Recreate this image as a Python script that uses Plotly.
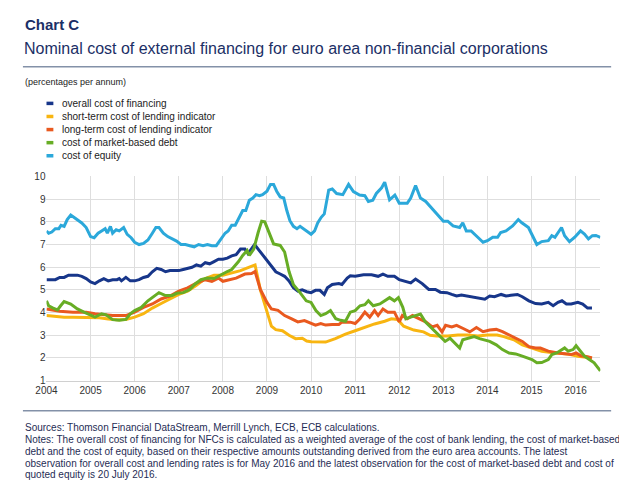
import plotly.graph_objects as go

# page body adds an 8 px margin around the figure; keep the figure inside the window
OFF = 8
W, H = 627 - 2 * OFF, 494 - 2 * OFF

# ---------------- data (decimal years, percentages per annum) ----------------
overall_x = [2004.0, 2004.1, 2004.2, 2004.3, 2004.4, 2004.5, 2004.6, 2004.7, 2004.8, 2004.9,
             2005.0, 2005.1, 2005.2, 2005.3, 2005.4, 2005.5, 2005.6, 2005.65, 2005.7, 2005.8, 2005.9,
             2006.0, 2006.1, 2006.2, 2006.3, 2006.4, 2006.5, 2006.6, 2006.7, 2006.8, 2006.9,
             2007.0, 2007.1, 2007.2, 2007.3, 2007.4, 2007.5, 2007.6, 2007.7, 2007.8, 2007.9,
             2008.0, 2008.1, 2008.2, 2008.3, 2008.4, 2008.5, 2008.57, 2008.65, 2008.72, 2008.8, 2008.9,
             2009.0, 2009.1, 2009.2, 2009.3, 2009.4, 2009.5, 2009.6, 2009.7, 2009.8, 2009.9,
             2010.0, 2010.1, 2010.2, 2010.3, 2010.37, 2010.48, 2010.63, 2010.7, 2010.82, 2010.89,
             2011.0, 2011.19, 2011.37, 2011.52, 2011.63, 2011.74, 2011.89,
             2012.0, 2012.11, 2012.26, 2012.37, 2012.52, 2012.67, 2012.82, 2012.93,
             2013.08, 2013.19, 2013.3, 2013.41, 2013.52, 2013.67, 2013.86, 2013.94,
             2014.05, 2014.16, 2014.31, 2014.42, 2014.53, 2014.68, 2014.79, 2014.94,
             2015.09, 2015.23, 2015.38, 2015.49, 2015.6, 2015.69, 2015.79, 2015.9,
             2016.05, 2016.16, 2016.27, 2016.37]
overall_y = [5.45, 5.45, 5.45, 5.55, 5.55, 5.65, 5.65, 5.65, 5.6, 5.5,
             5.35, 5.28, 5.4, 5.5, 5.4, 5.45, 5.45, 5.5, 5.4, 5.55, 5.4,
             5.4, 5.45, 5.55, 5.6, 5.8, 5.95, 5.9, 5.8, 5.85, 5.85,
             5.85, 5.9, 5.95, 6.0, 6.1, 6.05, 6.2, 6.15, 6.25, 6.35,
             6.35, 6.4, 6.5, 6.55, 6.8, 6.8, 6.6, 6.8, 7.0, 6.8, 6.55,
             6.3, 6.0, 5.8, 5.7, 5.6, 5.4, 5.1, 4.95, 5.0, 4.92,
             4.88, 4.98, 4.98, 4.8, 5.09, 5.24, 5.28, 5.24, 5.52, 5.62,
             5.6, 5.67, 5.67, 5.6, 5.7, 5.6, 5.6,
             5.45, 5.38, 5.31, 5.48, 5.28, 5.02, 5.02, 4.9,
             4.88, 4.8, 4.73, 4.77, 4.73, 4.7, 4.62, 4.59,
             4.73, 4.7, 4.8, 4.73, 4.76, 4.8, 4.7, 4.52,
             4.4, 4.38, 4.45, 4.3, 4.45, 4.52, 4.38, 4.38,
             4.45, 4.38, 4.2, 4.2]

short_x = [2004.0, 2004.2, 2004.4, 2004.6, 2004.8, 2005.0, 2005.2, 2005.4, 2005.6, 2005.8,
           2006.0, 2006.2, 2006.4, 2006.6, 2006.8, 2007.0, 2007.2, 2007.4, 2007.6, 2007.8,
           2008.0, 2008.2, 2008.4, 2008.6, 2008.73, 2008.85, 2009.0, 2009.1, 2009.2, 2009.35,
           2009.5, 2009.65, 2009.8, 2009.9, 2010.0, 2010.2, 2010.33, 2010.55, 2010.78, 2011.0,
           2011.22, 2011.44, 2011.67, 2011.82, 2011.96, 2012.1, 2012.33, 2012.55, 2012.7, 2012.85,
           2013.1, 2013.33, 2013.55, 2013.78, 2014.0, 2014.22, 2014.37, 2014.6, 2014.79, 2015.01,
           2015.23, 2015.53, 2015.83, 2016.05, 2016.37]
short_y = [3.87, 3.82, 3.8, 3.8, 3.8, 3.78, 3.77, 3.72, 3.68, 3.7,
           3.8, 3.95, 4.2, 4.4, 4.6, 4.8, 4.95, 5.2, 5.5, 5.65,
           5.65, 5.75, 5.85, 6.0, 6.1, 5.0, 4.1, 3.4, 3.25, 3.2,
           3.0, 2.85, 2.87, 2.75, 2.72, 2.7, 2.7, 2.85, 3.05, 3.2,
           3.35, 3.5, 3.62, 3.73, 3.7, 3.4, 3.23, 3.15, 3.0, 2.97,
           2.97, 3.01, 3.01, 2.97, 3.01, 3.01, 2.94, 2.8, 2.58, 2.44,
           2.3, 2.22, 2.17, 2.08, 2.0]

long_x = [2004.0, 2004.3, 2004.6, 2004.9, 2005.1, 2005.3, 2005.5, 2005.8,
          2006.0, 2006.2, 2006.4, 2006.6, 2006.8, 2007.0, 2007.2, 2007.4, 2007.6, 2007.75, 2007.9,
          2008.0, 2008.15, 2008.3, 2008.5, 2008.65, 2008.73, 2008.85, 2009.0, 2009.1, 2009.25,
          2009.4, 2009.55, 2009.7, 2009.85, 2010.0, 2010.1, 2010.22, 2010.33, 2010.48, 2010.63,
          2010.7, 2010.89, 2011.0, 2011.11, 2011.22, 2011.33, 2011.44, 2011.52, 2011.63, 2011.74,
          2011.89, 2012.0, 2012.07, 2012.18, 2012.3, 2012.45, 2012.6, 2012.75, 2012.86, 2012.97,
          2013.05, 2013.19, 2013.3, 2013.45, 2013.6, 2013.75, 2013.9, 2014.05, 2014.2, 2014.34,
          2014.57, 2014.79, 2014.94, 2015.09, 2015.2, 2015.38, 2015.6, 2015.75, 2015.9, 2016.01,
          2016.12, 2016.27, 2016.37]
long_y = [4.16, 4.06, 4.02, 4.02, 3.95, 3.92, 3.87, 3.87,
          4.02, 4.23, 4.38, 4.6, 4.73, 4.95, 5.09, 5.3, 5.45, 5.38, 5.52,
          5.38, 5.45, 5.52, 5.7, 5.72, 5.81, 5.02, 4.45, 4.16, 4.1,
          3.87, 3.73, 3.59, 3.65, 3.55, 3.45, 3.52, 3.45, 3.48, 3.48,
          3.58, 3.58, 3.52, 3.73, 4.02, 3.8, 4.09, 3.87, 4.16, 4.02,
          4.02, 3.59, 3.87, 3.73, 3.87, 3.73, 3.59, 3.37, 3.44, 3.15,
          3.44, 3.37, 3.44, 3.3, 3.15, 3.34, 3.16, 3.23, 3.26, 3.16,
          2.94, 2.73, 2.5, 2.44, 2.44, 2.3, 2.22, 2.2, 2.15, 2.22,
          2.1, 2.05, 2.0]

market_x = [2004.0, 2004.05, 2004.15, 2004.25, 2004.32, 2004.4, 2004.55, 2004.7, 2004.85,
            2005.0, 2005.1, 2005.25, 2005.35, 2005.5, 2005.65, 2005.8, 2005.9,
            2006.0, 2006.15, 2006.3, 2006.45, 2006.55, 2006.7, 2006.85, 2006.95,
            2007.1, 2007.25, 2007.35, 2007.5, 2007.65, 2007.8, 2007.95,
            2008.1, 2008.2, 2008.35, 2008.45, 2008.55, 2008.6, 2008.7, 2008.8, 2008.88, 2008.95,
            2009.05, 2009.15, 2009.3, 2009.4, 2009.5, 2009.6, 2009.75, 2009.89,
            2010.0, 2010.11, 2010.22, 2010.33, 2010.44, 2010.56, 2010.67, 2010.78, 2010.89,
            2011.0, 2011.11, 2011.22, 2011.3, 2011.41, 2011.56, 2011.67, 2011.78, 2011.89, 2011.98,
            2012.08, 2012.15, 2012.26, 2012.37, 2012.48, 2012.59, 2012.71, 2012.82, 2012.93,
            2013.04, 2013.15, 2013.26, 2013.37, 2013.44, 2013.56, 2013.7, 2013.82, 2013.93,
            2014.05, 2014.2, 2014.34, 2014.49, 2014.64, 2014.79,
            2015.01, 2015.12, 2015.23, 2015.38, 2015.46, 2015.57, 2015.68, 2015.75, 2015.83, 2015.94,
            2016.01, 2016.12, 2016.2, 2016.31, 2016.42, 2016.56]
market_y = [4.52, 4.3, 4.2, 4.12, 4.3, 4.49, 4.38, 4.16, 4.02,
            3.87, 3.8, 3.95, 3.9, 3.69, 3.66, 3.7, 3.95,
            4.09, 4.23, 4.52, 4.73, 4.88, 4.75, 4.75, 4.85,
            4.88, 5.02, 5.23, 5.45, 5.52, 5.5, 5.67,
            5.81, 5.9, 6.24, 6.52, 6.74, 6.52, 6.8, 7.53, 8.03, 8.0,
            7.53, 7.03, 6.96, 6.67, 5.81, 5.23, 4.88, 4.52,
            4.45, 4.09, 3.87, 3.95, 4.09, 3.73, 3.66, 3.62, 4.02,
            4.09, 4.3, 4.35, 4.52, 4.3, 4.38, 4.52, 4.66, 4.52, 4.66,
            4.23, 3.73, 3.8, 3.87, 3.94, 3.59, 3.37, 3.16, 2.94,
            2.73, 2.87, 2.65, 2.44, 2.8, 2.87, 2.94, 2.85, 2.8,
            2.73, 2.58, 2.37, 2.22, 2.18, 2.08,
            1.93, 1.79, 1.8, 1.93, 2.15, 2.22, 2.37, 2.44, 2.3, 2.37,
            2.54, 2.3, 2.08, 1.93, 1.79, 1.43]

equity_x = [2004.0, 2004.05, 2004.12, 2004.2, 2004.28, 2004.33, 2004.4, 2004.47, 2004.55, 2004.62,
            2004.7, 2004.8, 2004.9, 2005.0, 2005.08, 2005.17, 2005.25, 2005.33, 2005.38, 2005.45,
            2005.5, 2005.58, 2005.65, 2005.75, 2005.83, 2005.92, 2006.0, 2006.1, 2006.2, 2006.3,
            2006.4, 2006.48, 2006.55, 2006.65, 2006.75, 2006.85, 2006.95, 2007.05, 2007.15, 2007.25,
            2007.35, 2007.45, 2007.55, 2007.65, 2007.75, 2007.85, 2007.95, 2008.05, 2008.12, 2008.2,
            2008.28, 2008.35, 2008.45, 2008.52, 2008.6, 2008.68, 2008.75, 2008.83, 2008.9, 2009.0,
            2009.08, 2009.15, 2009.22, 2009.3, 2009.38, 2009.45, 2009.52, 2009.6, 2009.68, 2009.75,
            2009.83, 2009.92, 2010.0, 2010.08, 2010.15, 2010.23, 2010.3, 2010.4, 2010.48, 2010.58,
            2010.72, 2010.85, 2010.96, 2011.1, 2011.22, 2011.3, 2011.4, 2011.48, 2011.6, 2011.67,
            2011.78, 2011.9, 2012.0, 2012.18, 2012.26, 2012.37, 2012.48, 2012.6, 2012.7, 2012.85,
            2013.0, 2013.1, 2013.22, 2013.37, 2013.44, 2013.52, 2013.63, 2013.78, 2013.9, 2014.0,
            2014.12, 2014.23, 2014.3, 2014.42, 2014.57, 2014.7, 2014.78, 2014.93, 2015.01, 2015.12,
            2015.23, 2015.38, 2015.46, 2015.53, 2015.68, 2015.75, 2015.86, 2015.98, 2016.11, 2016.2,
            2016.29, 2016.38, 2016.46, 2016.56]
equity_y = [7.6, 7.5, 7.55, 7.7, 7.7, 7.85, 7.8, 8.1, 8.3, 8.2,
            8.1, 7.95, 7.75, 7.35, 7.3, 7.5, 7.6, 7.7, 7.5, 7.8,
            7.5, 7.65, 7.6, 7.75, 7.45, 7.3, 7.1, 7.0, 7.05, 7.2,
            7.5, 7.75, 7.75, 7.5, 7.35, 7.25, 7.15, 7.0, 7.0, 6.95,
            6.9, 7.0, 6.95, 7.0, 6.95, 6.95, 7.2, 7.5, 7.6, 7.85,
            7.85, 8.1, 8.5, 8.5, 8.95, 9.05, 9.2, 9.15, 9.2, 9.35,
            9.65, 9.65, 9.35, 9.1, 9.05, 8.5, 8.05, 7.8, 7.7, 7.8,
            7.7, 7.55, 7.45, 7.6, 7.95, 8.2, 8.35, 9.4, 9.45, 9.25,
            9.2, 9.65, 9.33, 9.18, 9.15, 8.9, 8.95, 9.25, 9.5, 9.75,
            8.97, 9.18, 8.82, 8.82, 9.05, 9.6, 9.05, 8.9, 8.68, 8.4,
            8.03, 8.03, 7.82, 7.75, 7.96, 7.6, 7.6, 7.32, 7.1, 7.17,
            7.32, 7.32, 7.53, 7.6, 7.82, 8.1, 7.96, 7.75, 7.46, 7.0,
            7.13, 7.17, 7.39, 7.32, 7.75, 7.39, 7.13, 7.32, 7.6, 7.46,
            7.25, 7.39, 7.4, 7.32]

series_names = ["overall cost of financing", "short-term cost of lending indicator",
                "long-term cost of lending indicator", "cost of market-based debt", "cost of equity"]
series_colors = ["#17368a", "#f8b511", "#e9591f", "#67ad25", "#2ba8da"]
series_x = [overall_x, short_x, long_x, market_x, equity_x]
series_y = [overall_y, short_y, long_y, market_y, equity_y]

year_ticks = list(range(2004, 2017))
year_labels = [str(y) for y in year_ticks]
value_ticks = list(range(1, 11))
value_labels = [str(v) for v in value_ticks]

title_text = "Chart C"
subtitle_text = "Nominal cost of external financing for euro area non-financial corporations"
unit_text = "(percentages per annum)"
note_lines = [
    "Sources: Thomson Financial DataStream, Merrill Lynch, ECB, ECB calculations.",
    "Notes: The overall cost of financing for NFCs is calculated as a weighted average of the cost of bank lending, the cost of market-based",
    "debt and the cost of equity, based on their respective amounts outstanding derived from the euro area accounts. The latest",
    "observation for overall cost and lending rates is for May 2016 and the latest observation for the cost of market-based debt and cost of",
    "quoted equity is 20 July 2016.",
]

FONT = "Liberation Sans, Arial, sans-serif"
NAVY = "#1b2f66"

def px(x):
    return (x - OFF) / W

def py(y):
    return 1 - (y - OFF) / H

fig = go.Figure()
order = [4, 0, 1, 2, 3]
for i in order:
    fig.add_trace(go.Scatter(x=series_x[i], y=series_y[i], mode="lines", name=series_names[i],
                             line=dict(color=series_colors[i], width=3), showlegend=False,
                             hoverinfo="skip"))

annotations = []
shapes = []

annotations.append(dict(text="<b>" + title_text + "</b>", x=px(12), y=py(19), xref="paper", yref="paper",
                        xanchor="left", yanchor="middle", showarrow=False,
                        font=dict(family=FONT, size=15, color=NAVY)))
annotations.append(dict(text=subtitle_text, x=px(11), y=py(43), xref="paper", yref="paper",
                        xanchor="left", yanchor="middle", showarrow=False,
                        font=dict(family=FONT, size=16, color=NAVY)))
annotations.append(dict(text=unit_text, x=px(12), y=py(78), xref="paper", yref="paper",
                        xanchor="left", yanchor="middle", showarrow=False,
                        font=dict(family=FONT, size=9, color="#222222")))

shapes.append(dict(type="line", xref="paper", yref="paper", x0=px(12), x1=px(611), y0=py(62), y1=py(62),
                   line=dict(color="#8391a8", width=1.5)))
shapes.append(dict(type="line", xref="paper", yref="paper", x0=px(12), x1=px(611), y0=py(414), y1=py(414),
                   line=dict(color="#8391a8", width=1.5)))

# legend (manual, compact like the reference)
for k, (name, col) in enumerate(zip(series_names, series_colors)):
    yy = 99.5 + k * 13.4
    shapes.append(dict(type="line", xref="paper", yref="paper", x0=px(36), x1=px(43), y0=py(yy), y1=py(yy),
                       line=dict(color=col, width=3.5)))
    annotations.append(dict(text=name, x=px(50), y=py(yy), xref="paper", yref="paper",
                            xanchor="left", yanchor="middle", showarrow=False,
                            font=dict(family=FONT, size=10, color="#222222")))

for k, line in enumerate(note_lines):
    annotations.append(dict(text=line, x=px(12), y=py(431 + k * 12.2), xref="paper", yref="paper",
                            xanchor="left", yanchor="middle", showarrow=False,
                            font=dict(family=FONT, size=10, color="#1f2d55")))

fig.update_layout(
    width=W, height=H,
    margin=dict(l=0, r=0, t=0, b=0),
    paper_bgcolor="white", plot_bgcolor="white",
    showlegend=False,
    annotations=annotations, shapes=shapes,
    font=dict(family=FONT, size=10, color="#333333"),
    xaxis=dict(domain=[px(36), px(600)], range=[2004, 2016.56], tickmode="array",
               tickvals=year_ticks, ticktext=year_labels, showgrid=True, gridcolor="#dedede",
               gridwidth=1, zeroline=False, showline=True, linecolor="#d0d0d0", ticks="",
               tickfont=dict(family=FONT, size=10, color="#333333")),
    yaxis=dict(domain=[py(383.3), py(174.3)], range=[1, 10], tickmode="array",
               tickvals=value_ticks, ticktext=value_labels, showgrid=True, gridcolor="#dedede",
               gridwidth=1, zeroline=False, showline=False, ticks="",
               tickfont=dict(family=FONT, size=10, color="#333333")),
)

fig.write_html("out.html", config={"displayModeBar": False})
